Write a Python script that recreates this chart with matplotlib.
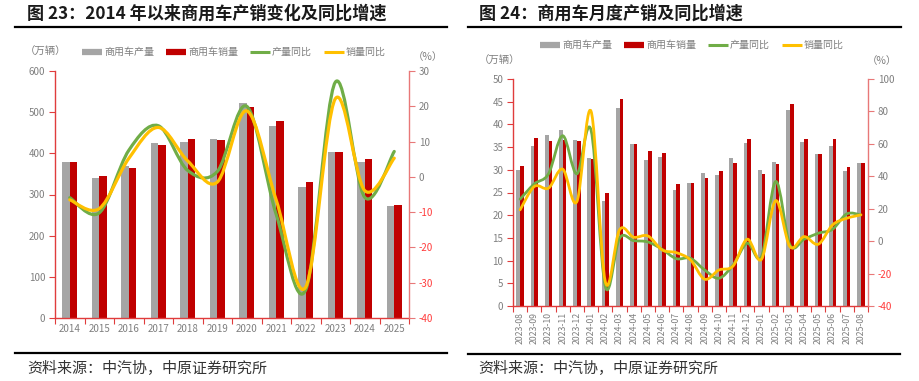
import numpy as np
import matplotlib
matplotlib.use("Agg")
import matplotlib.pyplot as plt
from matplotlib.path import Path
from matplotlib.patches import PathPatch
from matplotlib.lines import Line2D

plt.rcParams['font.family'] = ['Noto Sans CJK SC', 'DejaVu Sans']

# ---------------- data: chart 23 (annual) ----------------
years = ['2014', '2015', '2016', '2017', '2018', '2019', '2020', '2021', '2022', '2023', '2024', '2025']
prod_y = [380, 341, 370, 424, 428, 435, 523, 467, 319, 404, 380, 271]
sales_y = [379, 345, 364, 420, 436, 432, 513, 479, 330, 403, 387, 274]
prod_yoy_y = [-5.9, -10.2, 7.5, 14.5, 1.8, 1.5, 20.0, -10.7, -32.0, 26.8, -5.8, 7.2]
sales_yoy_y = [-6.5, -9.0, 5.2, 14.0, 4.5, -1.5, 18.7, -6.6, -31.2, 22.1, -3.9, 5.3]

# ---------------- data: chart 24 (monthly) ----------------
months = ['2023-08', '2023-09', '2023-10', '2023-11', '2023-12', '2024-01', '2024-02', '2024-03',
          '2024-04', '2024-05', '2024-06', '2024-07', '2024-08', '2024-09', '2024-10', '2024-11',
          '2024-12', '2025-01', '2025-02', '2025-03', '2025-04', '2025-05', '2025-06', '2025-07', '2025-08']
prod_m = [29.9, 35.3, 37.6, 38.7, 36.5, 32.6, 23.2, 43.7, 35.7, 32.1, 32.9, 25.6, 27.1,
          29.4, 28.9, 32.6, 35.9, 29.9, 31.7, 43.1, 36.1, 33.5, 35.3, 29.7, 31.5]
sales_m = [30.9, 37.0, 36.4, 36.5, 36.4, 32.3, 25.0, 45.7, 35.7, 34.1, 33.7, 26.8, 27.2,
           28.3, 29.7, 31.4, 36.8, 29.0, 31.25, 44.6, 36.7, 33.4, 36.8, 30.6, 31.6]
prod_yoy_m = [25.9, 35.3, 41.5, 65.0, 41.5, 68.3, -28.0, 1.8, 0.3, -0.5, -5.0, -10.8, -10.6,
              -17.8, -22.9, -14.7, -1.3, -9.5, 36.8, -2.3, 1.2, 4.9, 7.3, 16.8, 16.2]
sales_yoy_m = [19.3, 33.7, 32.7, 44.4, 24.4, 80.0, -25.0, 7.0, 2.4, 3.2, -5.4, -7.1, -11.6,
               -23.5, -17.8, -15.3, 1.2, -11.2, 25.0, -3.4, 2.8, -1.9, 10.0, 14.1, 16.2]

legend_labels = ['商用车产量', '商用车销量', '产量同比', '销量同比']

GRAY = '#A5A5A5'
RED = '#C00000'
GREEN = '#70AD47'
YELLOW = '#FFC000'
SPINE = '#E03C3C'
SPINE_R = '#E87878'
TXT = '#7F7F7F'
NEG = '#FF3B3B'

W, H = 919, 381
fig = plt.figure(figsize=(W / 100, H / 100), dpi=100)


def fx(px):
    return px / W


def fy(py):
    return 1 - py / H


def smooth_patch(ax, xs, ys, color, lw):
    pts = np.column_stack([xs, ys]).astype(float)
    n = len(pts)
    verts = [pts[0]]
    codes = [Path.MOVETO]
    for i in range(n - 1):
        p0 = pts[i - 1] if i > 0 else pts[i]
        p1 = pts[i]
        p2 = pts[i + 1]
        p3 = pts[i + 2] if i + 2 < n else pts[i + 1]
        c1 = p1 + (p2 - p0) / 6.0
        c2 = p2 - (p3 - p1) / 6.0
        verts += [c1, c2, p2]
        codes += [Path.CURVE4] * 3
    patch = PathPatch(Path(verts, codes), fill=False, edgecolor=color, lw=lw,
                      capstyle='round', joinstyle='round', transform=ax.transData)
    ax.add_patch(patch)


def build(rect, cats, prod, sales, pyoy, syoy, ylim, yticks, y2lim, y2ticks,
          bar_w, lw, rot, xfs):
    ax = fig.add_axes(rect)
    x = np.arange(len(cats))
    ax.bar(x - bar_w / 2, prod, width=bar_w, color=GRAY, zorder=2)
    ax.bar(x + bar_w / 2, sales, width=bar_w, color=RED, zorder=2)
    ax.set_xlim(-0.5, len(cats) - 0.5)
    ax.set_ylim(*ylim)
    ax.set_yticks(yticks)
    ax.set_yticklabels([str(t) for t in yticks], fontsize=7, color=TXT)
    ax.set_xticks(x)
    ax.set_xticklabels(cats, fontsize=xfs, color=TXT, rotation=rot)
    ax.set_xticks(np.arange(-0.5, len(cats), 1.0), minor=True)
    ax.tick_params(axis='x', which='major', length=0, pad=4)
    ax.tick_params(axis='x', which='minor', length=4, color=SPINE, width=0.8)
    ax.tick_params(axis='y', length=4, color=SPINE, width=0.8, pad=3)
    for s in ['top', 'right']:
        ax.spines[s].set_visible(False)
    ax.spines['left'].set_color(SPINE)
    ax.spines['bottom'].set_color(SPINE)
    ax.spines['left'].set_linewidth(1.0)
    ax.spines['bottom'].set_linewidth(1.0)

    ax2 = ax.twinx()
    ax2.set_ylim(*y2lim)
    ax2.set_yticks(y2ticks)
    ax2.set_yticklabels([str(t) for t in y2ticks], fontsize=7)
    for t, lab in zip(y2ticks, ax2.get_yticklabels()):
        lab.set_color(NEG if t < 0 else TXT)
    ax2.tick_params(axis='y', length=4, color=SPINE_R, width=0.8, pad=3)
    for s in ['top', 'left', 'bottom']:
        ax2.spines[s].set_visible(False)
    ax2.spines['right'].set_color(SPINE_R)
    ax2.spines['right'].set_linewidth(1.0)
    smooth_patch(ax2, x, pyoy, GREEN, lw)
    smooth_patch(ax2, x, syoy, YELLOW, lw)
    return ax, ax2


# ---------- left chart ----------
axL, axL2 = build([fx(55), fy(318), fx(409) - fx(55), fy(71) - fy(318)],
                  years, prod_y, sales_y, prod_yoy_y, sales_yoy_y,
                  (0, 600), list(range(0, 601, 100)), (-40, 30), list(range(-40, 31, 10)),
                  0.25, 2.3, 0, 7)

# ---------- right chart ----------
axR, axR2 = build([fx(513), fy(306), fx(868) - fx(513), fy(79) - fy(306)],
                  months, prod_m, sales_m, prod_yoy_m, sales_yoy_m,
                  (0, 50), list(range(0, 51, 5)), (-40, 100), list(range(-40, 101, 20)),
                  0.26, 2.0, 90, 6.3)

# ---------- legends ----------
handles = [Line2D([], [], color=GRAY, lw=4.5, solid_capstyle='butt'),
           Line2D([], [], color=RED, lw=4.5, solid_capstyle='butt'),
           Line2D([], [], color=GREEN, lw=2.2, solid_capstyle='butt'),
           Line2D([], [], color=YELLOW, lw=2.2, solid_capstyle='butt')]
for cx, cy in [(234, 52), (692, 45)]:
    leg = fig.legend(handles, legend_labels, loc='center', bbox_to_anchor=(fx(cx), fy(cy)),
                     ncol=4, frameon=False, fontsize=7.2, handlelength=2.0,
                     handletextpad=0.2, columnspacing=1.2, borderpad=0)
    for t in leg.get_texts():
        t.set_color(TXT)

# ---------- unit labels ----------
fig.text(fx(25), fy(52), '（万辆）', fontsize=7.5, color=TXT, ha='left', va='center')
fig.text(fx(428), fy(57), '（%）', fontsize=7.5, color=TXT, ha='center', va='center')
fig.text(fx(479), fy(61), '（万辆）', fontsize=7.5, color=TXT, ha='left', va='center')
fig.text(fx(882), fy(61), '（%）', fontsize=7.5, color=TXT, ha='center', va='center')

# ---------- titles, rules, source ----------
fig.text(fx(27), fy(14), '图 23：2014 年以来商用车产销变化及同比增速', fontsize=12.3,
         fontweight='bold', color='#1a1a1a', ha='left', va='center')
fig.text(fx(479), fy(14), '图 24：商用车月度产销及同比增速', fontsize=12.3,
         fontweight='bold', color='#1a1a1a', ha='left', va='center')
for x0, x1, yy in [(15, 447, 27), (468, 901, 27), (15, 447, 353), (468, 900, 354)]:
    fig.add_artist(Line2D([fx(x0), fx(x1)], [fy(yy), fy(yy)], color='black', lw=1.6,
                          transform=fig.transFigure))
fig.text(fx(27), fy(369), '资料来源：中汽协，中原证券研究所', fontsize=10.8, color='#333333',
         ha='left', va='center')
fig.text(fx(478), fy(369), '资料来源：中汽协，中原证券研究所', fontsize=10.8, color='#333333',
         ha='left', va='center')

fig.savefig('out.png', dpi=100)
